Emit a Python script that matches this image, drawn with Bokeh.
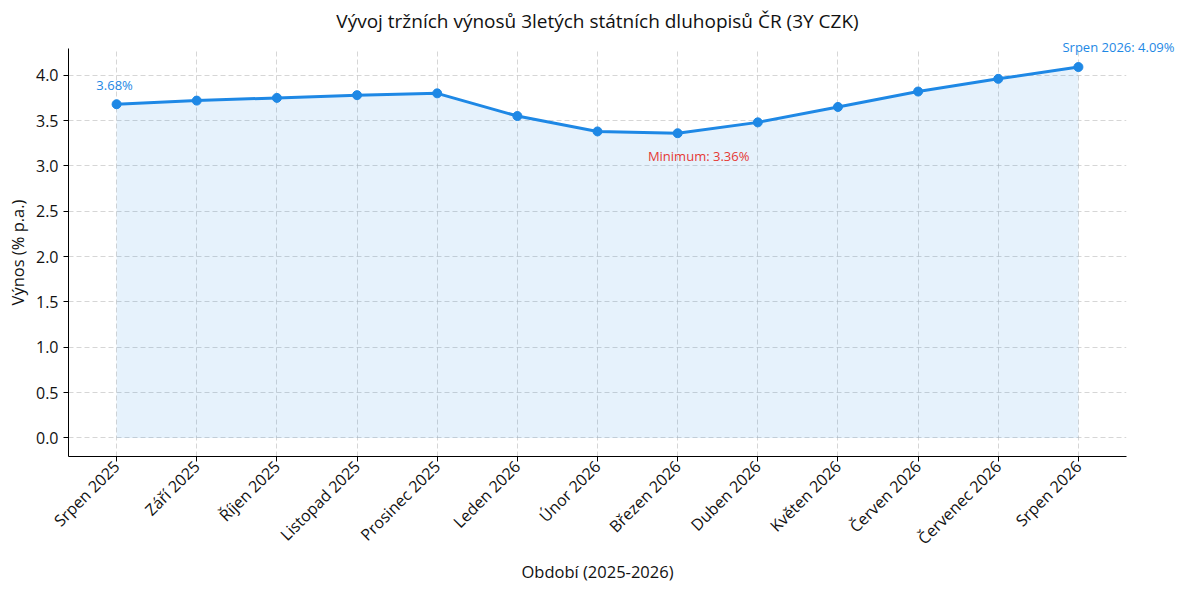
import math
from bokeh.plotting import figure
from bokeh.models import FixedTicker, Range1d, ColumnDataSource, Label, Title
from bokeh.embed import file_html
from bokeh.resources import INLINE

months = ["Srpen 2025", "Září 2025", "Říjen 2025", "Listopad 2025", "Prosinec 2025",
          "Leden 2026", "Únor 2026", "Březen 2026", "Duben 2026", "Květen 2026",
          "Červen 2026", "Červenec 2026", "Srpen 2026"]
yields = [3.68, 3.72, 3.75, 3.78, 3.80, 3.55, 3.38, 3.36, 3.48, 3.65, 3.82, 3.96, 4.09]
y_ticks = [0.0, 0.5, 1.0, 1.5, 2.0, 2.5, 3.0, 3.5, 4.0]

FONT = "Open Sans"
BLUE = "#1e88e5"
RED = "#e53935"

xs = list(range(len(months)))

p = figure(width=1180, height=586, output_backend="svg", toolbar_location=None,
           x_range=Range1d(-0.6, len(months) - 1 + 0.6),
           y_range=Range1d(-0.2045, max(yields) * 1.05),
           min_border_left=68, min_border_right=54, min_border_top=48, min_border_bottom=130)

p.title.text = "Vývoj tržních výnosů 3letých státních dluhopisů ČR (3Y CZK)"
p.title.align = "center"
p.title.vertical_align = "top"
p.title.text_font = FONT
p.title.text_font_size = "19px"
p.title.text_font_style = "normal"
p.title.text_color = "#111111"
p.title.standoff = 13

src = ColumnDataSource(dict(x=xs, y=yields, z=[0] * len(xs)))
p.varea(x="x", y1="z", y2="y", source=src, fill_color=BLUE, fill_alpha=0.11)
p.line(x="x", y="y", source=src, line_color=BLUE, line_width=3)
p.scatter(x="x", y="y", source=src, size=9, fill_color=BLUE, line_color=BLUE)

# annotations
first_i = 0
last_i = len(yields) - 1
min_i = yields.index(min(yields))
ann = [
    (first_i, f"{yields[first_i]:.2f}%", -2, 19, BLUE),
    (min_i, f"Minimum: {yields[min_i]:.2f}%", 21, -23, RED),
]
for i, txt, dx, dy, col in ann:
    p.add_layout(Label(x=xs[i], y=yields[i], text=txt, x_offset=dx, y_offset=dy,
                       text_align="center", text_baseline="middle",
                       text_font=FONT, text_font_size="13px", text_color=col))

# last-value note reaches beyond the plot frame, so it is placed in the top panel
p.add_layout(Title(text=f"{months[last_i]}: {yields[last_i]:.2f}%", align="right",
                   offset=-48, standoff=-14, text_font=FONT, text_font_size="13px",
                   text_font_style="normal", text_color=BLUE), "above")

# axes
p.xaxis.ticker = FixedTicker(ticks=xs)
p.xaxis.major_label_overrides = {i: m for i, m in enumerate(months)}
p.xaxis.major_label_orientation = math.pi / 4
p.yaxis.ticker = FixedTicker(ticks=y_ticks)
p.yaxis.major_label_overrides = {t: f"{t:.1f}" for t in y_ticks}
p.xaxis.axis_label = "Období (2025-2026)"
p.yaxis.axis_label = "Výnos (% p.a.)"
for ax in (p.xaxis, p.yaxis):
    ax.axis_label_text_font = FONT
    ax.axis_label_text_font_size = "16.5px"
    ax.axis_label_text_font_style = "normal"
    ax.axis_label_text_color = "#111111"
    ax.major_label_text_font = FONT
    ax.major_label_text_font_size = "16px"
    ax.major_label_text_color = "#111111"
    ax.minor_tick_line_color = None
    ax.major_tick_in = 0
    ax.major_tick_out = 5
    ax.axis_line_color = "#000000"
    ax.major_tick_line_color = "#000000"
p.xaxis.major_label_standoff = 2
p.xaxis.axis_label_standoff = 0
p.yaxis.axis_label_standoff = 4

p.grid.grid_line_color = "#bbbbbb"
p.grid.grid_line_alpha = 0.6
p.grid.grid_line_dash = "5 3"
p.outline_line_color = None
p.background_fill_color = "white"

open("out.html", "w").write(file_html(p, INLINE))
